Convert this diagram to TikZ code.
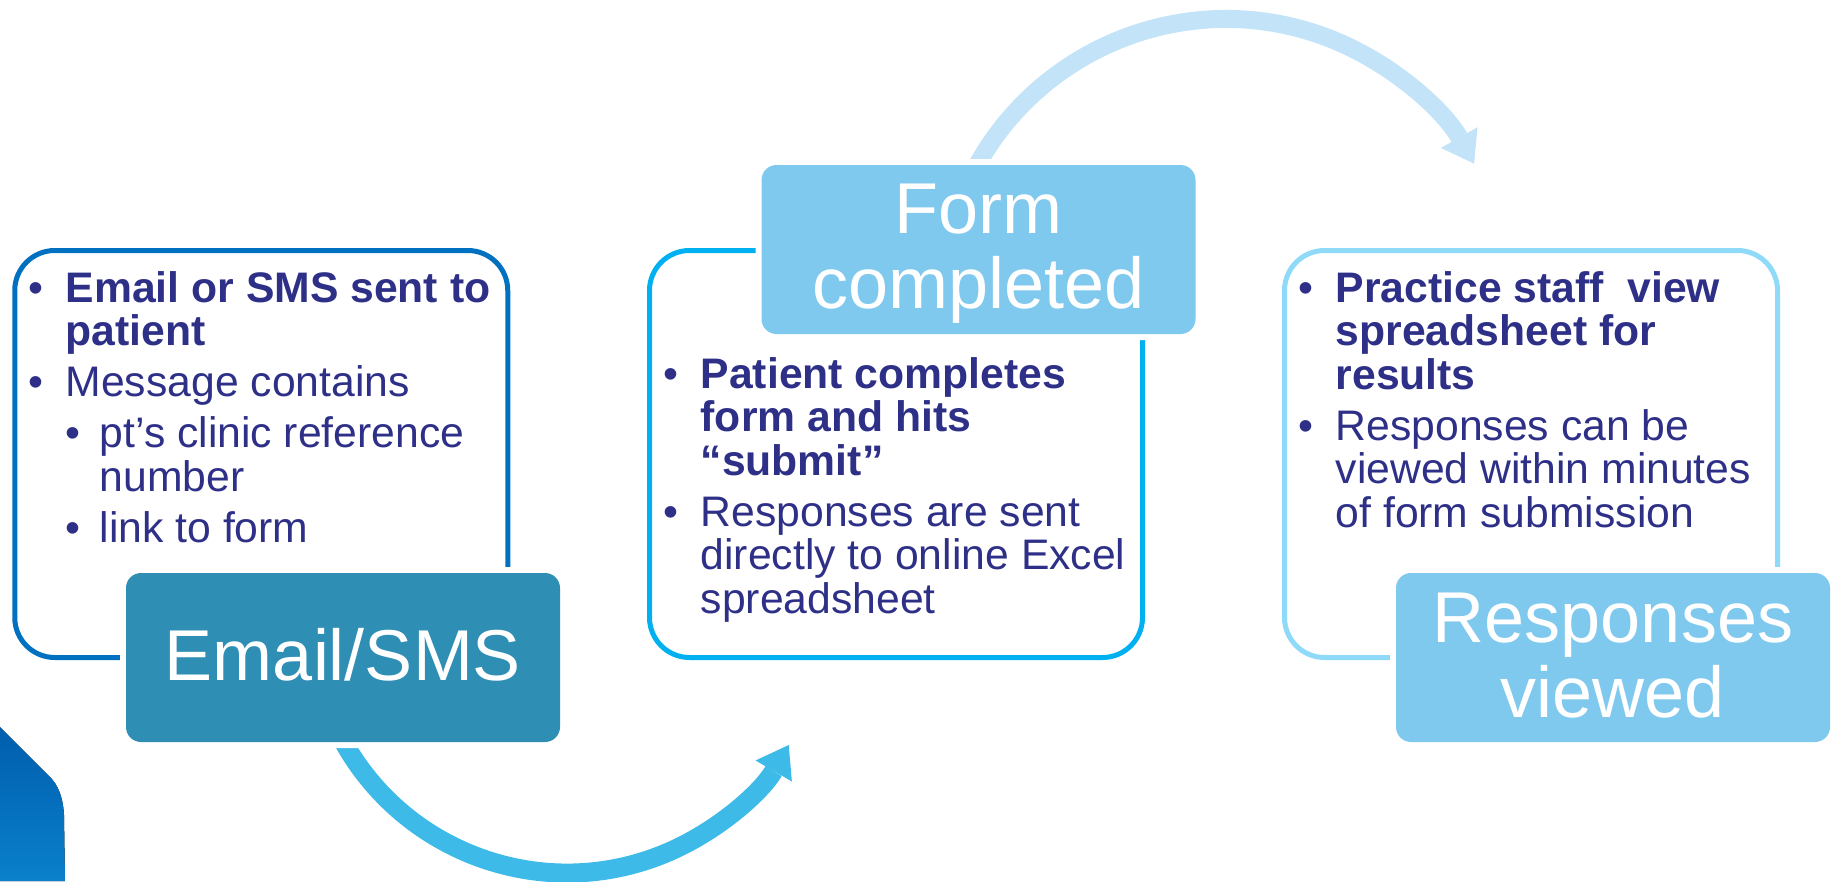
\documentclass[tikz,border=0pt]{standalone}
\usepackage{fontspec}
\setmainfont{Liberation Sans}
\usetikzlibrary{arrows.meta,calc}

\definecolor{navytext}{HTML}{2E3088}
\definecolor{stepone}{HTML}{0070C0}
\definecolor{steptwo}{HTML}{00B0F0}
\definecolor{stepthree}{HTML}{8EDAF8}
\definecolor{labelone}{HTML}{2E8EB4}
\definecolor{labellight}{HTML}{7FC8EE}
\definecolor{arrowlow}{HTML}{3DBAE8}
\definecolor{arrowhigh}{HTML}{C2E3F8}
\definecolor{cornertop}{HTML}{005EAE}
\definecolor{cornerbot}{HTML}{0A80CB}

% first-level and second-level bullet paragraphs with hanging indent
\newcommand\itemone[1]{\par\leftskip=0pt\hangindent=37pt\hangafter=1\noindent\makebox[37pt][l]{\textbullet}#1}
\newcommand\itemtwo[1]{\par\leftskip=37pt\hangindent=34pt\hangafter=1\noindent\makebox[34pt][l]{\textbullet}#1}
\newcommand\bullettext[1]{%
  \begin{minipage}[t]{470pt}%
    \fontsize{42.7pt}{43.5pt}\selectfont
    \parindent=0pt\parskip=7.5pt\rightskip=0pt plus 1fil%
    #1%
  \end{minipage}}

\tikzset{
  stepbox/.style={draw, line width=5pt, rounded corners=40pt,
    minimum width=493pt, minimum height=407pt, inner sep=0pt},
  steplabel/.style={rounded corners=15pt, minimum width=434pt,
    minimum height=169pt, inner sep=0pt, text=white, align=center,
    font=\fontsize{72pt}{74.5pt}\selectfont,
    preaction={draw=white, line width=12pt}},
  steptext/.style={anchor=base west, inner sep=0pt, text=navytext},
  lowarrow/.style={draw=arrowlow, line width=19pt,
    -{Triangle[length=30pt, width=42pt, line width=0pt]}},
  higharrow/.style={draw=arrowhigh, line width=18pt,
    -{Triangle[length=30pt, width=42pt, line width=0pt]}},
}

\begin{document}
\begin{tikzpicture}[x=1pt, y=-1pt]
\useasboundingbox (0,0) rectangle (1831,881);

% decorative corner tab, lower left
\fill[top color=cornertop, bottom color=cornerbot]
  (0,727) -- (50,777) .. controls (58,785) and (63,797) .. (64,815)
  -- (65,881) -- (0,881) -- cycle;

% curved connectors between the steps
\coordinate (lowc) at (567,617);
\coordinate (highc) at (1226,304);
\draw[lowarrow] ($(lowc)+(155:256)$) arc[start angle=155, end angle=30, radius=256];
\draw[higharrow] ($(highc)+(205:285)$) arc[start angle=205, end angle=330.5, radius=285];

% step frames
\node[stepbox, draw=stepone]   (box1) at (261.25,454) {};
\node[stepbox, draw=steptwo]   (box2) at (896,454) {};
\node[stepbox, draw=stepthree] (box3) at (1531,454) {};

% step titles (box baseline is the last line)
\node[steplabel, fill=labelone, text height=45pt, text depth=0pt]
  (lab1) at (343,657.5) {Email/SMS};
\node[steplabel, fill=labellight, text height=117pt, text depth=0pt]
  (lab2) at (978.5,249.5) {Form\\completed};
\node[steplabel, fill=labellight, text height=119pt, text depth=0pt]
  (lab3) at (1613,657.5) {Responses\\viewed};

% step descriptions
\node[steptext] (txt1) at (28.5,302) {\bullettext{%
  \itemone{\textbf{Email or SMS sent to\\patient}}
  \itemone{Message contains}
  \itemtwo{pt’s clinic reference\\number}
  \itemtwo{link to form}}};
\node[steptext] (txt2) at (663.5,388) {\bullettext{%
  \itemone{\textbf{Patient completes\\form and hits\\“submit”}}
  \itemone{Responses are sent\\directly to online Excel\\spreadsheet}}};
\node[steptext] (txt3) at (1298.5,302) {\bullettext{%
  \itemone{\textbf{Practice staff\ \ view\\spreadsheet for\\results}}
  \itemone{Responses can be\\viewed within minutes\\of form submission}}};
\end{tikzpicture}
\end{document}
